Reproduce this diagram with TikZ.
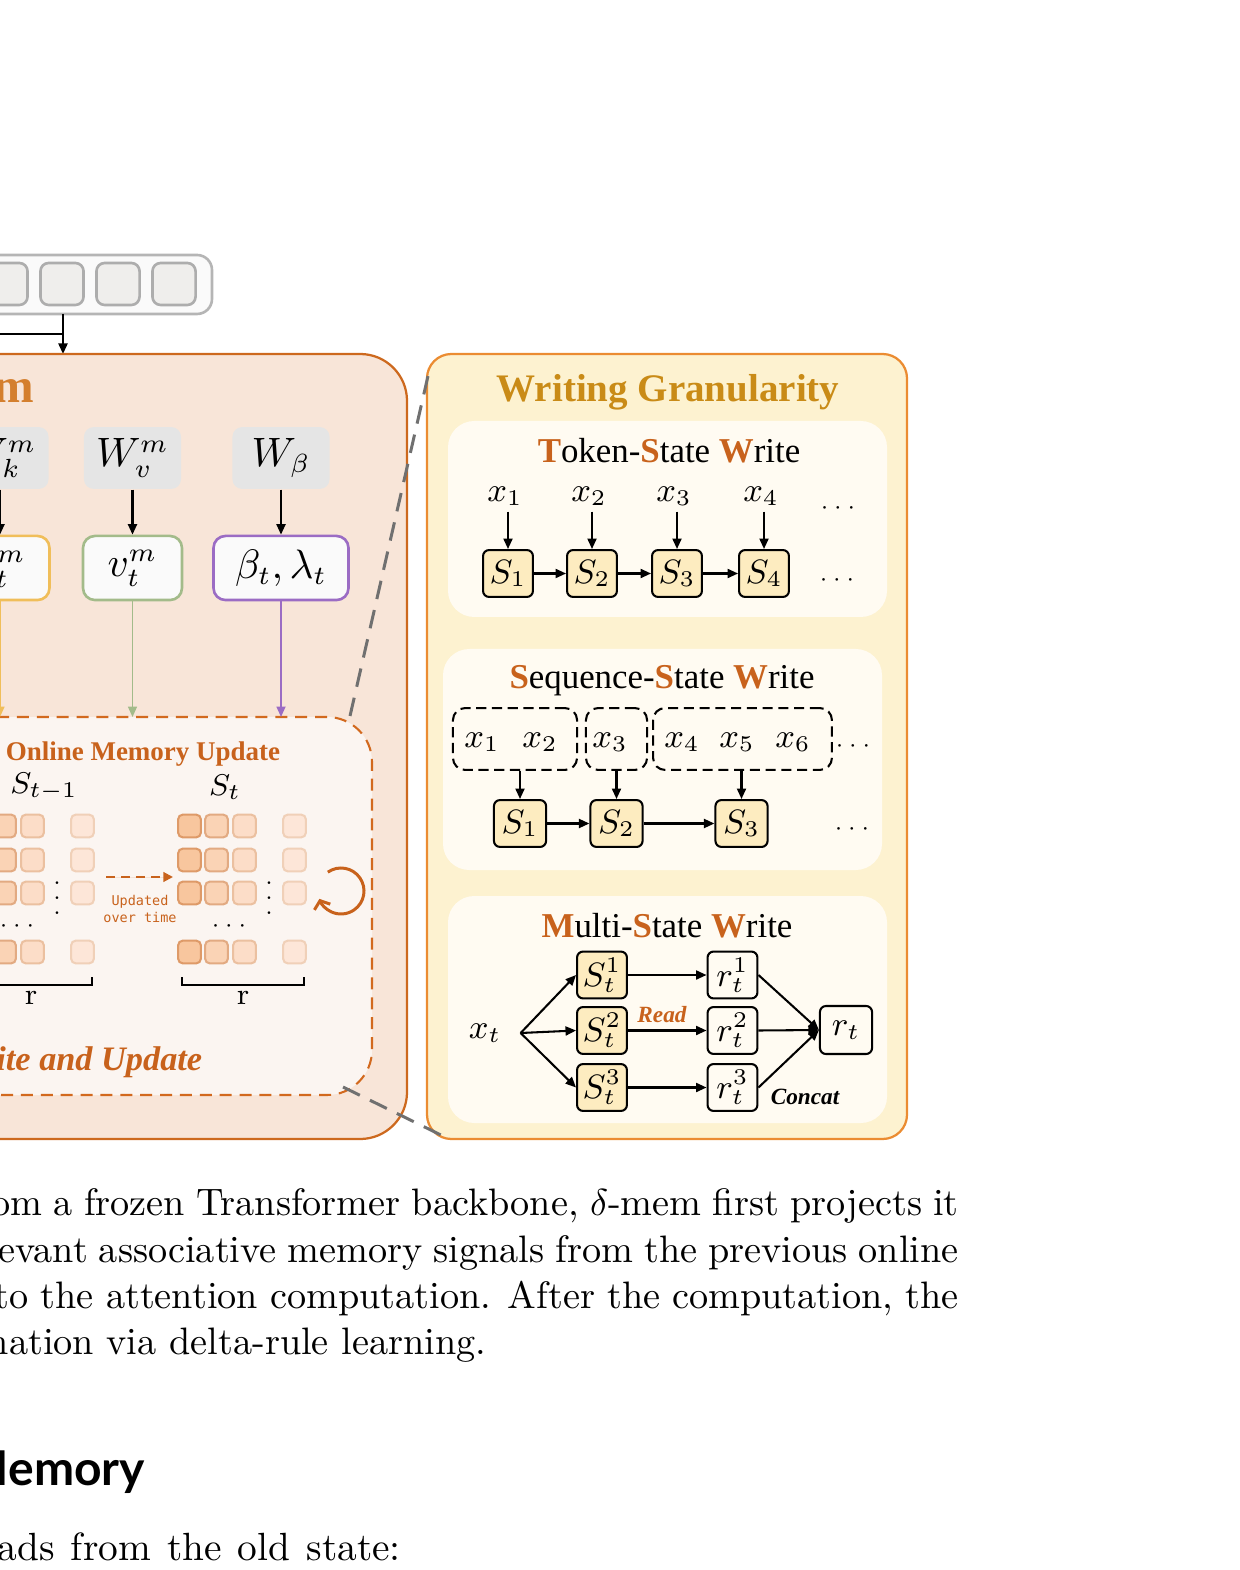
\documentclass[tikz,border=0pt]{standalone}
\usepackage{fontspec}
\newfontfamily\timesfont{Liberation Serif}
\newfontfamily\headfont{Lato}
\newfontfamily\codefont{DejaVu Sans Mono}
\usetikzlibrary{positioning,arrows.meta}

\definecolor{memfill}{HTML}{F8E5D8}
\definecolor{memline}{HTML}{CD691E}
\definecolor{updfill}{HTML}{FBF5F1}
\definecolor{updline}{HTML}{D2691E}
\definecolor{granfill}{HTML}{FDF2D0}
\definecolor{granline}{HTML}{EB8C32}
\definecolor{panelfill}{HTML}{FFFBF2}
\definecolor{gold}{HTML}{C98B17}
\definecolor{rust}{HTML}{C8621C}
\definecolor{memtitle}{HTML}{D47F2E}
\definecolor{statefill}{HTML}{FDECC0}
\definecolor{wgray}{HTML}{E5E5E5}
\definecolor{kline}{HTML}{F0BE5A}
\definecolor{vline}{HTML}{A3BB8A}
\definecolor{bline}{HTML}{9B6CC4}
\definecolor{tokfill}{HTML}{FAFAFA}
\definecolor{tokline}{HTML}{B5B5B5}
\definecolor{tokcellfill}{HTML}{EFEEEC}
\definecolor{tokcellline}{HTML}{ADADAD}
\definecolor{zoomgray}{HTML}{707070}
\definecolor{cellAf}{HTML}{F8C69E}
\definecolor{cellAd}{HTML}{DE9A68}
\definecolor{cellBf}{HTML}{FAD3B5}
\definecolor{cellBd}{HTML}{E2AA82}
\definecolor{cellCf}{HTML}{FCDDC8}
\definecolor{cellCd}{HTML}{EBC0A0}
\definecolor{cellDf}{HTML}{FDE6D8}
\definecolor{cellDd}{HTML}{F0D0B8}

\newcommand{\capl}[1]{{\color{rust}\bfseries #1}}

\begin{document}
\begin{tikzpicture}[x=0.2667pt,y=-0.2667pt,
  flow/.style={line width=0.55pt,-{Triangle[length=2.8pt,width=2.4pt]}},
  tokbar/.style={draw=tokline,fill=tokfill,line width=0.7pt,rounded corners=4pt},
  tokcell/.style={draw=tokcellline,fill=tokcellfill,line width=0.7pt,rounded corners=2.2pt,
    minimum width=11.5pt,minimum height=11.2pt,inner sep=0pt},
  memblock/.style={draw=memline,fill=memfill,line width=0.6pt,rounded corners=12.5pt},
  updblock/.style={draw=updline,fill=updfill,line width=0.55pt,dash pattern=on 3.2pt off 2.1pt,
    rounded corners=12pt},
  granblock/.style={draw=granline,fill=granfill,line width=0.6pt,rounded corners=6.5pt},
  panel/.style={fill=panelfill,rounded corners=7pt},
  wbox/.style={fill=wgray,rounded corners=2.6pt,minimum width=25.9pt,minimum height=16.5pt,
    inner sep=0pt,font=\fontsize{10.5}{12}\selectfont},
  pbox/.style={fill=tokfill,line width=0.7pt,rounded corners=3.2pt,minimum height=17.1pt,
    inner sep=0pt,font=\fontsize{10.5}{12}\selectfont},
  state/.style={draw=black,fill=statefill,line width=0.55pt,rounded corners=1.6pt,
    minimum width=13.3pt,minimum height=12.5pt,inner sep=0pt,font=\fontsize{9}{10}\selectfont},
  readout/.style={state,fill=panelfill},
  group/.style={draw=black,line width=0.55pt,dash pattern=on 2.7pt off 1.5pt,rounded corners=3.2pt,
    minimum height=16.5pt,inner sep=0pt},
  lbl/.style={inner sep=0pt,font=\fontsize{9}{10}\selectfont},
  dotlbl/.style={inner sep=0pt,font=\fontsize{6}{7}\selectfont},
  cell/.style={rounded corners=1.3pt,line width=0.55pt,minimum size=6.1pt,inner sep=0pt},
  zoomline/.style={draw=zoomgray,line width=0.8pt,dash pattern=on 5pt off 3pt},
  subtitle/.style={inner sep=0pt,anchor=base,font=\timesfont\fontsize{9.3}{11}\selectfont},
  note/.style={inner sep=0pt,font=\timesfont\bfseries\itshape\fontsize{6.2}{7}\selectfont},
  captxt/.style={inner sep=0pt,anchor=base west,font=\fontsize{10.2}{12}\selectfont}]
\useasboundingbox (0,0) rectangle (1240,1570);

% token sequence on top
\draw[tokbar] (-200,255) rectangle (212,314);
\foreach \i in {0,...,6}
  \node[tokcell] (tok\i) at ({174-56*\i},284) {};
\coordinate (tokout) at (63,314);
\coordinate (memin) at (63,354);
\coordinate (side) at (-60,334);
\coordinate (join) at (63,334);
\draw[line width=0.55pt] (side) -- (join);
\draw[flow] (tokout) -- (memin);

% memory module
\draw[memblock] (-500,354) rectangle (407,1139);
\node[inner sep=0pt,anchor=base east,text=memtitle,font=\timesfont\bfseries\fontsize{13}{15}\selectfont]
  (memname) at (35,403) {δ-mem};

\node[wbox] (wk) at (0,458) {$W_k^m$};
\node[wbox] (wv) at (132.5,458) {$W_v^m$};
\node[wbox] (wb) at (281,458) {$W_\beta$};
\node[pbox,draw=kline,minimum width=26.4pt] (kt) at (0,568) {$k_t^m$};
\node[pbox,draw=vline,minimum width=26.4pt] (vt) at (132.5,568) {$v_t^m$};
\node[pbox,draw=bline,minimum width=36pt] (bt) at (281,568) {$\beta_t,\lambda_t$};
\draw[flow] (wk) -- (kt);
\draw[flow] (wv) -- (vt);
\draw[flow] (wb) -- (bt);

% online update block
\draw[updblock] (-500,717) rectangle (372,1095);
\coordinate (updtop) at (0,717);
\draw[flow,line width=0.45pt,draw=kline,fill=kline] (kt.south) -- (kt.south |- updtop);
\draw[flow,line width=0.45pt,draw=vline,fill=vline] (vt.south) -- (vt.south |- updtop);
\draw[flow,line width=0.45pt,draw=bline,fill=bline] (bt.south) -- (bt.south |- updtop);

\node[inner sep=0pt,anchor=base west,text=rust,font=\timesfont\bfseries\fontsize{7.2}{9}\selectfont]
  (updname) at (5,760) {Online Memory Update};
\node[lbl,font=\fontsize{8}{9}\selectfont] (sold) at (44,787) {$S_{t-1}$};
\node[lbl,font=\fontsize{8}{9}\selectfont] (snew) at (225,787) {$S_t$};

\foreach \gx/\g in {0/new,-212/old}{
  \foreach \cx/\cf/\cd [count=\c] in {189.5/cellAf/cellAd,216.5/cellBf/cellBd,244.5/cellCf/cellCd,294.5/cellDf/cellDd}
    \foreach \cy [count=\r] in {826,860,893,952}
      \node[cell,fill=\cf,draw=\cd] (\g-\c-\r) at ({\cx+\gx},\cy) {};
  \node[dotlbl] (\g-vdots) at ({269+\gx},887) {$\vdots$};
  \node[dotlbl] (\g-hdots) at ({229+\gx},926) {$\cdots$};
  \draw[line width=0.55pt] ({182+\gx},977) -- ({182+\gx},985) -- ({304+\gx},985) -- ({304+\gx},977);
  \node[lbl,font=\fontsize{8}{9}\selectfont] (\g-rank) at ({243+\gx},998) {r};
}

\coordinate (olda) at (106,877);
\coordinate (newa) at (173,877);
\draw[line width=0.55pt,draw=rust,fill=rust,dash pattern=on 2.4pt off 1.6pt,
  -{Triangle[length=2.6pt,width=2.6pt]}] (olda) -- (newa);
\node[inner sep=0pt,align=center,text=rust,font=\codefont\fontsize{3.6}{4.3}\selectfont]
  (updnote) at (140,909) {Updated\\over time};

\coordinate (loopc) at (341,891);
\draw[draw=rust,line width=0.8pt,-{Straight Barb[length=1.8pt,width=4.5pt]}]
  (loopc) ++(-125:23) arc[start angle=-125,end angle=160,radius=23];

\node[inner sep=0pt,anchor=base east,text=rust,font=\timesfont\bfseries\itshape\fontsize{9.15}{11}\selectfont]
  (wuname) at (203,1070) {Write and Update};

% writing granularity
\draw[granblock] (427,354) rectangle (907,1139);
\node[inner sep=0pt,anchor=base,text=gold,font=\timesfont\bfseries\fontsize{10.4}{12}\selectfont]
  (granname) at (668,402) {Writing Granularity};

% zoom lines
\coordinate (zoomA) at (350,716);
\coordinate (zoomB) at (428,376);
\coordinate (zoomC) at (343,1087);
\coordinate (zoomD) at (445,1137);
\draw[zoomline] (zoomA) -- (zoomB);
\draw[zoomline] (zoomC) -- (zoomD);

% token-state write
\fill[panel] (448,421) rectangle (887,617);
\node[subtitle] (tokname) at (669,463) {\capl{T}oken-\capl{S}tate \capl{W}rite};
\foreach \sx [count=\i] in {508,592,677,764}{
  \node[state] (ts\i) at (\sx,573.5) {$S_\i$};
  \node[lbl] (tx\i) at ({\sx-3},496) {$x_\i$};
  \draw[flow,shorten <=1.5pt] (tx\i.south -| ts\i.north) -- (ts\i.north);
}
\foreach \i/\j in {1/2,2/3,3/4}
  \draw[flow] (ts\i) -- (ts\j);
\node[dotlbl] (tdotsa) at (838,508) {$\cdots$};
\node[dotlbl] (tdotsb) at (837,580) {$\cdots$};

% sequence-state write
\fill[panel] (443,649) rectangle (882,870);
\node[subtitle] (seqname) at (662,688) {\capl{S}equence-\capl{S}tate \capl{W}rite};
\node[group,minimum width=33.1pt] (qg1) at (515,739) {};
\node[group,minimum width=16.3pt] (qg2) at (616.5,739) {};
\node[group,minimum width=47.7pt] (qg3) at (742.5,739) {};
\foreach \qx [count=\i] in {482,540,610,682,737,793}
  \node[lbl] (qx\i) at (\qx,742) {$x_\i$};
\node[dotlbl] (qdotsa) at (853,746) {$\cdots$};
\node[state,minimum width=13.9pt] (qs1) at (520,823.5) {$S_1$};
\node[state,minimum width=13.9pt] (qs2) at (616.5,823.5) {$S_2$};
\node[state,minimum width=13.9pt] (qs3) at (741.5,823.5) {$S_3$};
\foreach \i in {1,2,3}
  \draw[flow] (qg\i.south -| qs\i.north) -- (qs\i.north);
\draw[flow] (qs1) -- (qs2);
\draw[flow] (qs2) -- (qs3);
\node[dotlbl] (qdotsb) at (852,829) {$\cdots$};

% multi-state write
\fill[panel] (448,896) rectangle (887,1123);
\node[subtitle] (multname) at (667,937) {\capl{M}ulti-\capl{S}tate \capl{W}rite};
\node[lbl] (mx) at (485,1033) {$x_t$};
\coordinate (msplit) at ([xshift=5pt]mx.east);
\node[readout,minimum width=13.9pt,minimum height=12.8pt] (mrt) at (846,1030) {$r_t$};
\foreach \k/\ky in {1/975,2/1030.5,3/1087.5}{
  \node[state] (ms\k) at (602,\ky) {$S_t^\k$};
  \node[readout] (mr\k) at (732.5,\ky) {$r_t^\k$};
  \draw[flow] (msplit) -- (ms\k.west);
  \draw[flow] (ms\k) -- (mr\k);
  \draw[flow] (mr\k.east) -- (mrt.west);
}
\node[note,text=rust] (mread) at (662,1015) {Read};
\node[note] (mconcat) at (805,1097) {Concat};

% caption and body text
\node[captxt] (cap1) at (-9,1215) {\makebox[257.9pt][s]{om a frozen Transformer backbone, $\delta$-mem first projects it}};
\node[captxt] (cap2) at (-2,1262) {\makebox[256pt][s]{evant associative memory signals from the previous online}};
\node[captxt] (cap3) at (-6,1308) {\makebox[257.1pt][s]{to the attention computation. After the computation, the}};
\node[captxt] (cap4) at (-13,1354) {nation via delta-rule learning.};
\node[inner sep=0pt,anchor=base west,font=\headfont\bfseries\fontsize{12.8}{15}\selectfont]
  (sechead) at (-37,1485) {Memory};
\node[captxt,font=\fontsize{10.5}{12}\selectfont] (body1) at (-3,1560) {\makebox[107.5pt][s]{ads from the old state:}};
\end{tikzpicture}
\end{document}
